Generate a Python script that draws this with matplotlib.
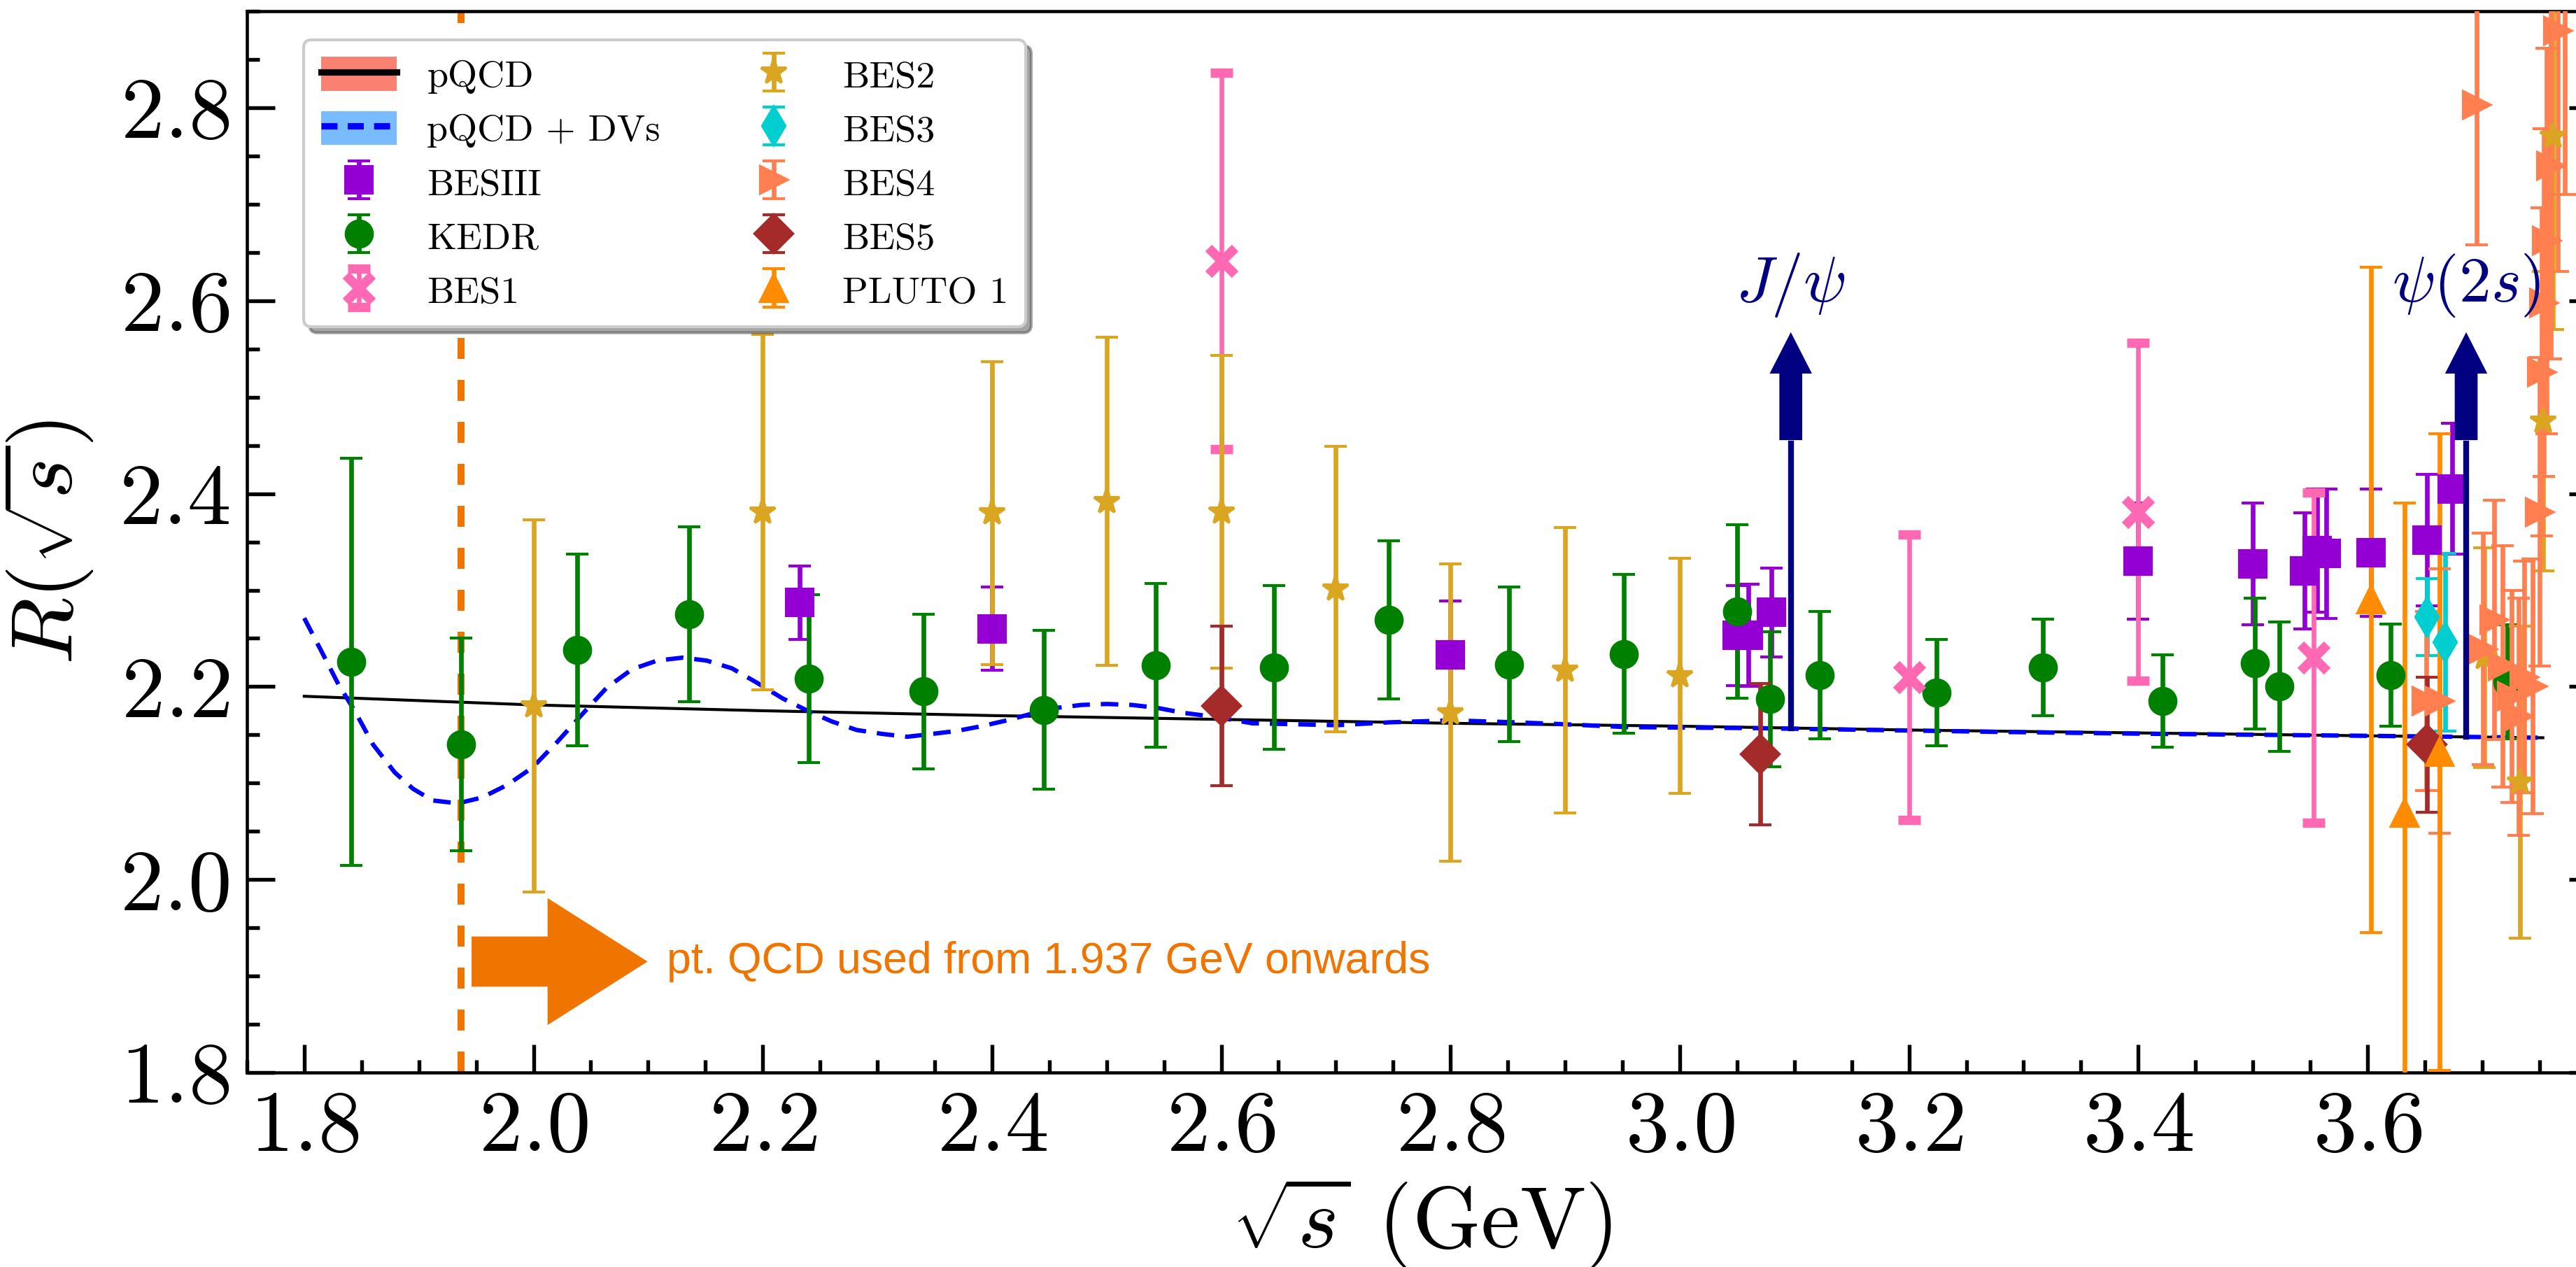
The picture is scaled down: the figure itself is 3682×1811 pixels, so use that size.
import numpy as np
import matplotlib
matplotlib.use("Agg")
import matplotlib.pyplot as plt
from matplotlib.patches import Patch, FancyArrow
from matplotlib.lines import Line2D
from matplotlib.ticker import FixedLocator, MultipleLocator

plt.rcParams['font.family'] = 'serif'
plt.rcParams['font.serif'] = ['cmr10']
plt.rcParams['mathtext.fontset'] = 'cm'
plt.rcParams['axes.formatter.use_mathtext'] = True

# --- theory curves ---
pqcd_x = [1.80, 2.00, 2.20, 2.40, 2.60, 2.80, 3.00, 3.20, 3.40, 3.60, 3.753]
pqcd_y = [2.190, 2.181, 2.175, 2.170, 2.166, 2.162, 2.159, 2.155, 2.152, 2.149, 2.147]

dv_x = [1.800, 1.814, 1.830, 1.844, 1.860, 1.879, 1.895, 1.912, 1.934, 1.955, 1.977,
        1.999, 2.021, 2.043, 2.064, 2.086, 2.108, 2.130, 2.151, 2.173, 2.195, 2.217,
        2.239, 2.260, 2.282, 2.304, 2.326, 2.348, 2.369, 2.391, 2.413, 2.435, 2.457,
        2.478, 2.500, 2.522, 2.544, 2.566, 2.598, 2.627, 2.701, 2.747, 2.801, 2.856,
        2.899, 2.954, 3.063, 3.172, 3.281, 3.417, 3.600, 3.753]
dv_y = [2.271, 2.239, 2.202, 2.175, 2.140, 2.111, 2.094, 2.082, 2.079, 2.085, 2.098,
        2.116, 2.143, 2.172, 2.199, 2.218, 2.227, 2.230, 2.227, 2.219, 2.204, 2.188,
        2.175, 2.164, 2.155, 2.151, 2.148, 2.151, 2.154, 2.159, 2.165, 2.172, 2.178,
        2.181, 2.182, 2.181, 2.178, 2.173, 2.168, 2.162, 2.160, 2.163, 2.165, 2.163,
        2.161, 2.158, 2.157, 2.155, 2.153, 2.151, 2.149, 2.147]

# --- data: x, R, error ---
besiii_x = [2.2324, 2.400, 2.800, 3.050, 3.060, 3.080, 3.400, 3.500, 3.545, 3.556, 3.564, 3.603, 3.652, 3.674]
besiii_y = [2.287, 2.260, 2.233, 2.253, 2.253, 2.277, 2.330, 2.327, 2.320, 2.341, 2.338, 2.339, 2.352, 2.405]
besiii_e = [0.038, 0.043, 0.056, 0.052, 0.053, 0.046, 0.060, 0.063, 0.060, 0.064, 0.067, 0.066, 0.068, 0.068]

kedr_x = [1.841, 1.937, 2.038, 2.136, 2.240, 2.340, 2.445, 2.543, 2.646, 2.746, 2.851,
          2.951, 3.050, 3.079, 3.122, 3.224, 3.317, 3.421, 3.502, 3.523, 3.620, 3.722]
kedr_y = [2.226, 2.140, 2.238, 2.275, 2.208, 2.195, 2.176, 2.222, 2.220, 2.269, 2.223,
          2.234, 2.278, 2.187, 2.212, 2.194, 2.220, 2.185, 2.224, 2.200, 2.212, 2.205]
kedr_e = [0.211, 0.110, 0.099, 0.091, 0.087, 0.080, 0.082, 0.085, 0.085, 0.082, 0.080,
          0.082, 0.090, 0.070, 0.066, 0.055, 0.050, 0.048, 0.068, 0.067, 0.053, 0.059]

bes1_x = [2.600, 3.200, 3.400, 3.553]
bes1_y = [2.641, 2.210, 2.381, 2.230]
bes1_e = [0.195, 0.148, 0.175, 0.171]

bes2_x = [2.000, 2.200, 2.400, 2.500, 2.600, 2.700, 2.800, 2.900, 3.000, 3.702, 3.733, 3.753, 3.762]
bes2_y = [2.180, 2.381, 2.380, 2.392, 2.381, 2.301, 2.173, 2.217, 2.211, 2.230, 2.101, 2.475, 2.770]
bes2_e = [0.193, 0.184, 0.157, 0.170, 0.162, 0.148, 0.154, 0.148, 0.122, 0.114, 0.162, 0.155, 0.200]

bes3_x = [3.652, 3.668]
bes3_y = [2.272, 2.246]
bes3_e = [0.040, 0.092]

bes4_x = [3.6515, 3.6627, 3.6953, 3.701, 3.7105, 3.718, 3.726, 3.732, 3.737, 3.744,
          3.750, 3.752, 3.754, 3.756, 3.760, 3.766, 3.772]
bes4_y = [2.185, 2.185, 2.803, 2.239, 2.269, 2.221, 2.190, 2.169, 2.210, 2.200,
          2.381, 2.526, 2.598, 2.662, 2.740, 2.880, 2.960]
bes4_e = [0.093, 0.137, 0.145, 0.120, 0.124, 0.125, 0.110, 0.123, 0.120, 0.132,
          0.160, 0.170, 0.180, 0.200, 0.200, 0.250, 0.250]

bes5_x = [2.600, 3.070, 3.652]
bes5_y = [2.180, 2.130, 2.140]
bes5_e = [0.083, 0.073, 0.070]

pluto_x = [3.603, 3.6326, 3.6627]
pluto_y = [2.290, 2.069, 2.132]
pluto_e = [0.345, 0.321, 0.330]

# resonance markers
jpsi_x, psi2s_x = 3.0969, 3.6861
jpsi_line = (2.157, 2.452)
psi2s_line = (2.148, 2.452)
pt_qcd_start = 1.937

fig = plt.figure(figsize=(3682 / 300, 1811 / 300), dpi=300)
ax = fig.add_axes([0.09585, 0.1535, 0.9122, 0.8376])

ax.plot(pqcd_x, pqcd_y, color='black', lw=1.0, zorder=3)
ax.plot(dv_x, dv_y, color='blue', lw=1.5, dashes=(4, 2.5), zorder=3)

ax.axvline(pt_qcd_start, color='#f07400', lw=2.4, dashes=(3, 3), zorder=2)

ebkw = dict(linestyle='none', elinewidth=1.6, capsize=3.8, capthick=1.6, zorder=4)
series = [
    (besiii_x, besiii_y, besiii_e, 's', 'darkviolet', 'BESIII'),
    (kedr_x, kedr_y, kedr_e, 'o', 'green', 'KEDR'),
    (bes1_x, bes1_y, bes1_e, 'x', 'hotpink', 'BES1'),
    (bes2_x, bes2_y, bes2_e, '*', 'goldenrod', 'BES2'),
    (bes3_x, bes3_y, bes3_e, 'd', 'darkturquoise', 'BES3'),
    (bes4_x, bes4_y, bes4_e, '>', 'coral', 'BES4'),
    (bes5_x, bes5_y, bes5_e, 'D', 'brown', 'BES5'),
    (pluto_x, pluto_y, pluto_e, '^', 'darkorange', 'PLUTO 1'),
]
handles = []
for x, y, e, m, c, lab in series:
    mew = 3.2 if m == 'x' else 1.0
    h = ax.errorbar(x, y, yerr=e, fmt=m, color=c, ms=9, mew=mew, label=lab, **ebkw)
    handles.append(h)

# J/psi and psi(2s) arrows
for xr, (y0, y1), lab in [(jpsi_x, jpsi_line, r'$J/\psi$'), (psi2s_x, psi2s_line, r'$\psi(2s)$')]:
    ax.plot([xr, xr], [y0, y1], color='navy', lw=2.0, zorder=5)
    ax.add_patch(FancyArrow(xr, 2.457, 0, 0.107, width=0.0174, head_width=0.0327,
                            head_length=0.038, length_includes_head=True,
                            color='navy', zorder=5))
    ax.text(xr, 2.616, lab, color='navy', fontsize=22, ha='center', va='center', zorder=5)

# pQCD threshold arrow + text
ax.add_patch(FancyArrow(1.946, 1.915, 0.1535, 0, width=0.052, head_width=0.1316,
                        head_length=0.0872, length_includes_head=True,
                        color='#f07400', lw=0, zorder=5))
ax.text(2.1165, 1.915, 'pt. QCD used from 1.937 GeV onwards', color='#f07400',
        fontsize=15, family='Liberation Sans', ha='left', va='center', zorder=5)

ax.set_xlim(1.75, 3.80)
ax.set_ylim(1.8, 2.9)
ax.xaxis.set_major_locator(FixedLocator(np.round(np.arange(1.8, 3.61, 0.2), 1)))
ax.xaxis.set_minor_locator(MultipleLocator(0.05))
ax.yaxis.set_major_locator(FixedLocator(np.round(np.arange(1.8, 2.81, 0.2), 1)))
ax.yaxis.set_minor_locator(MultipleLocator(0.05))
ax.tick_params(which='both', direction='in', right=True, top=False, labelsize=30, pad=6)
ax.tick_params(which='major', length=9.6, width=1.3)
ax.tick_params(which='minor', length=4.4, width=1.3)
for s in ax.spines.values():
    s.set_linewidth(1.1)

ax.set_xlabel(r'$\sqrt{s}$ (GeV)', fontsize=30)
ax.xaxis.set_label_coords(0.5, -0.097)
ax.set_ylabel(r'$R(\sqrt{s})$', fontsize=30, labelpad=8)

pqcd_h = (Patch(facecolor='salmon'), Line2D([], [], color='black', lw=2.2))
dv_h = (Patch(facecolor='dodgerblue', alpha=0.6), Line2D([], [], color='blue', lw=2.2, dashes=(2.5, 1.6)))
leg = ax.legend([pqcd_h, dv_h] + handles,
                ['pQCD', 'pQCD + DVs'] + [s[5] for s in series],
                loc='upper left', bbox_to_anchor=(0.0242, 0.973), borderaxespad=0,
                ncol=2, fontsize=13, fancybox=True, shadow=True, framealpha=1,
                edgecolor='0.8', columnspacing=2.0, handlelength=2.0, handleheight=1.0,
                handletextpad=0.8, labelspacing=0.45, borderpad=0.45)
leg.set_zorder(10)

fig.savefig('out.png', dpi=300)
